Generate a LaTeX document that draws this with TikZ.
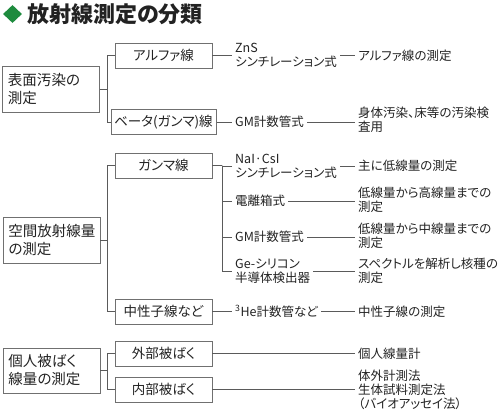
\documentclass[tikz,border=0pt]{standalone}
\usepackage{fontspec}
\setmainfont{Noto Sans CJK JP}[RawFeature=+palt]
\usetikzlibrary{shapes.geometric}
\definecolor{Frame}{HTML}{707070}
\definecolor{Wire}{HTML}{5A5A5A}
\definecolor{Leaf}{HTML}{1E8B3E}
\definecolor{Ink}{HTML}{222222}

\begin{document}
\begin{tikzpicture}[x=1pt,y=-1pt,
    group/.style={draw=Frame,line width=0.9pt,text=Ink,minimum height=46pt,
      text width=86pt,inner xsep=5.5pt,align=left,font=\fontsize{14.5}{18}\selectfont},
    kind/.style={draw=Frame,line width=0.9pt,text=Ink,minimum width=97pt,
      minimum height=25pt,font=\fontsize{13.5}{15}\selectfont},
    method/.style={anchor=west,inner xsep=3pt,inner ysep=0pt,align=left,text=Ink,
      font=\fontsize{12.5}{14}\selectfont},
    result/.style={method},
    wire/.style={draw=Wire,line width=0.8pt}
  ]
    \useasboundingbox (0,0) rectangle (500,415);
    % title
    \node[diamond,fill=Leaf,minimum width=19pt,minimum height=18pt,inner sep=0pt] (badge) at (12.5,14) {};
    \node[anchor=west,inner sep=0pt,text=Ink,font=\fontsize{22}{24}\selectfont\bfseries] (title) at (27,14) {放射線測定の分類};
    % first level
    \node[group] (g1) at (51,89) {表面汚染の\\測定};
    \node[group] (g2) at (51.5,240) {空間放射線量\\の測定};
    \node[group,minimum height=45pt] (g3) at (51.5,370.5) {個人被ばく\\線量の測定};
    % second level
    \node[kind] (k1) at (163.5,55.5) {アルファ線};
    \node[kind] (k2) at (163.5,122) {ベータ(ガンマ)線};
    \node[kind] (k3) at (163.5,165.5) {ガンマ線};
    \node[kind] (k4) at (163.5,311.5) {中性子線など};
    \node[kind] (k5) at (163.5,353.5) {外部被ばく};
    \node[kind] (k6) at (163.5,389.5) {内部被ばく};
    % methods
    \node[method] (m1) at (232,55.5) {ZnS\\シンチレーション式};
    \node[method] (m2) at (232,122) {GM計数管式};
    \node[method] (m3) at (232,166) {NaI·CsI\\シンチレーション式};
    \node[method] (m4) at (232,201) {電離箱式};
    \node[method] (m5) at (232,237) {GM計数管式};
    \node[method] (m6) at (232,271) {Ge-シリコン\\半導体検出器};
    \node[method] (m7) at (232,311.5) {\textsuperscript{3}He計数管など};
    % results
    \node[result] (r1) at (355,55.5) {アルファ線の測定};
    \node[result] (r2) at (355,120) {身体汚染、床等の汚染検\\査用};
    \node[result] (r3) at (355,166) {主に低線量の測定};
    \node[result] (r4) at (355,200) {低線量から高線量までの\\測定};
    \node[result] (r5) at (355,235.5) {低線量から中線量までの\\測定};
    \node[result] (r6) at (355,270.5) {スペクトルを解析し核種の\\測定};
    \node[result] (r7) at (355,311.5) {中性子線の測定};
    \node[result] (r8) at (355,353.5) {個人線量計};
    \node[result] (r9) at (355,390) {体外計測法\\生体試料測定法\\（バイオアッセイ法）};
    % tree lines
    \draw[wire] (g1.east) -- ++(7,0) coordinate (j1);
    \draw[wire] (k1.west) -| (j1) |- (k2.west);
    \draw[wire] (g2.east) -- ++(7,0) coordinate (j2);
    \draw[wire] (k3.west) -| (j2) |- (k4.west);
    \draw[wire] (g3.east) -- ++(7,0) coordinate (j3);
    \draw[wire] (k5.west) -| (j3) |- (k6.west);
    \draw[wire] (k3.east) -- ++(10,0) coordinate (jg);
    \draw[wire] (m3.west) -| (jg) |- (m6.west);
    \foreach \m in {m4,m5}\draw[wire] (\m.west) -- (\m.west -| jg);
    \foreach \a/\b in {k1/m1,k2/m2,k4/m7}\draw[wire] (\a.east) -- (\a.east -| \b.west);
    \foreach \a/\b in {m1/r1,m2/r2,m3/r3,m4/r4,m5/r5,m6/r6,m7/r7,k5/r8,k6/r9}
      \draw[wire] (\a.east) -- (\a.east -| \b.west);
\end{tikzpicture}
\end{document}
